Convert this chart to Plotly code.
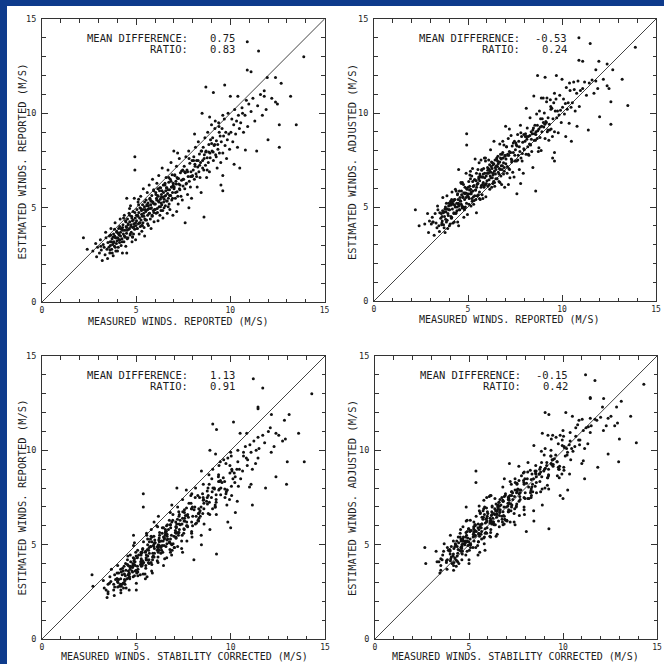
import plotly.graph_objects as go

# Wind speeds (m/s) for each observation: measured as reported, measured after the
# stability correction, estimated as reported, and estimated after adjustment.
MEASURED_REPORTED = [
    2.2, 2.4, 2.7, 2.85, 2.9, 2.95, 3.05, 3.1, 3.15, 3.2,
    3.25, 3.3, 3.35, 3.4, 3.45, 3.48, 3.5, 3.12, 3.38, 3.55,
    3.58, 3.6, 3.62, 3.66, 3.7, 3.72, 3.75, 3.78, 3.8, 3.82,
    3.85, 3.88, 3.9, 3.92, 3.95, 3.97, 3.99, 3.63, 3.86, 4.02,
    4.05, 4.07, 4.1, 4.12, 4.15, 4.17, 4.2, 4.22, 4.25, 4.27,
    4.3, 4.32, 4.35, 4.37, 4.4, 4.42, 4.45, 4.47, 4.49, 4.13,
    4.28, 4.44, 4.08, 4.52, 4.54, 4.56, 4.58, 4.5, 4.62, 4.64,
    4.66, 4.68, 4.7, 4.72, 4.74, 4.76, 4.78, 4.8, 4.82, 4.84,
    4.86, 4.88, 4.9, 4.92, 4.93, 4.93, 4.95, 4.97, 4.99, 4.65,
    4.81, 4.5, 5.02, 5.04, 5.06, 5.08, 5.1, 5.12, 5.14, 5.16,
    5.18, 5.2, 5.22, 5.24, 5.26, 5.28, 5.3, 5.32, 5.34, 5.36,
    5.38, 5.4, 5.42, 5.44, 5.46, 5.48, 5.13, 5.29, 5.45, 5.51,
    5.53, 5.55, 5.57, 5.59, 5.61, 5.63, 5.65, 5.67, 5.69, 5.71,
    5.73, 5.75, 5.77, 5.79, 5.81, 5.83, 5.85, 5.87, 5.89, 5.91,
    5.93, 5.95, 5.97, 5.62, 5.78, 5.94, 6.02, 6.04, 6.06, 6.08,
    6.1, 6.12, 6.14, 6.16, 6.18, 6.2, 6.22, 6.24, 6.26, 6.28,
    6.3, 6.32, 6.34, 6.36, 6.38, 6.4, 6.42, 6.44, 6.46, 6.48,
    6.15, 6.33, 6.51, 6.53, 6.55, 6.57, 6.59, 6.61, 6.63, 6.65,
    6.67, 6.69, 6.71, 6.73, 6.75, 6.77, 6.79, 6.81, 6.83, 6.85,
    6.87, 6.89, 6.91, 6.93, 6.95, 6.97, 6.7, 7.02, 7.05, 7.08,
    7.11, 7.14, 7.17, 7.2, 7.23, 7.26, 7.29, 7.32, 7.35, 7.38,
    7.41, 7.47, 7.49, 7.15, 7.3, 7.45, 7.0, 7.2, 7.52, 7.55,
    7.58, 7.61, 7.64, 7.67, 7.7, 7.73, 7.76, 7.79, 7.82, 7.85,
    7.88, 7.91, 7.94, 7.97, 7.6, 7.8, 7.99, 8.03, 8.06, 8.09,
    8.12, 8.15, 8.18, 8.21, 8.24, 8.27, 8.3, 8.33, 8.36, 8.39,
    8.42, 8.45, 8.48, 8.1, 8.5, 8.53, 8.56, 8.59, 8.62, 8.65,
    8.68, 8.71, 8.74, 8.77, 8.8, 8.83, 8.86, 8.89, 8.92, 8.6,
    8.7, 8.95, 9.03, 9.06, 9.1, 9.14, 9.18, 9.22, 9.26, 9.3,
    9.34, 9.38, 9.42, 9.46, 9.1, 9.49, 9.2, 9.4, 9.6, 9.0,
    8.9, 9.52, 9.56, 9.6, 9.64, 9.68, 9.72, 9.76, 9.8, 9.84,
    9.88, 9.92, 9.96, 9.6, 9.5, 9.6, 9.7, 10.03, 10.08, 10.13,
    10.18, 10.23, 10.28, 10.33, 10.38, 10.43, 10.48, 10.0, 10.2, 10.4,
    10.5, 10.55, 10.62, 10.7, 10.78, 10.85, 10.92, 10.8, 10.9, 11.1,
    10.9, 10.65, 10.98, 11.1, 11.2, 11.3, 11.4, 11.5, 11.45, 11.6,
    11.7, 11.8, 11.8, 11.9, 11.96, 12.0, 12.2, 12.4, 12.4, 12.5,
    12.6, 12.6, 12.7, 13.2, 13.5, 13.9,
    3.61, 3.65, 3.69, 3.73, 3.77, 3.81, 3.85, 3.89, 3.93, 3.97,
    4.01, 4.05, 4.09, 4.13, 4.17, 4.21, 4.25, 4.29, 4.33, 4.37,
    4.41, 4.45, 4.49, 4.53, 4.57, 4.61, 4.65, 4.69, 4.73, 4.77,
    4.81, 4.85, 4.89, 4.93, 4.97, 5.01, 5.05, 5.09, 5.13, 5.17,
    5.21, 5.25, 5.29, 5.33, 5.37, 5.41, 5.45, 5.49, 5.53, 5.57,
    5.61, 5.65, 5.69, 5.73, 5.77, 5.81, 5.85, 5.89, 5.93, 5.97,
    6.01, 6.05, 6.09, 6.13, 6.17, 6.21, 6.25, 6.29, 6.33, 6.37,
    6.41, 6.45, 6.49, 6.53, 6.57, 6.61, 6.65, 6.69, 6.73, 6.77,
    6.81, 6.85, 6.89, 6.93, 6.97, 7.01, 7.05, 7.09, 7.13, 7.17,
    7.21, 7.25, 7.33, 7.41, 7.49, 7.57, 7.65, 7.73, 7.81, 7.89,
    7.97, 8.05, 8.13, 8.21, 8.29, 8.37, 8.45, 8.53, 8.61, 8.69,
    8.77, 8.85, 8.93, 9.01, 9.09, 9.17, 9.25, 9.33, 9.41,
]

MEASURED_CORRECTED = [
    2.65, 2.7, 3.3, 3.25, 3.5, 3.5, 3.4, 3.6, 3.85, 3.45,
    3.65, 3.8, 3.5, 3.85, 4.1, 3.83, 3.9, 3.57, 3.68, 4.15,
    3.98, 3.8, 4.17, 4.01, 4.2, 4.42, 4.0, 4.18, 4.3, 3.97,
    4.3, 4.53, 4.25, 4.32, 4.4, 4.27, 4.59, 4.03, 4.06, 4.57,
    4.4, 4.57, 4.8, 4.37, 4.55, 4.67, 4.35, 4.67, 4.9, 4.62,
    4.7, 4.77, 4.65, 4.97, 4.8, 4.62, 5.0, 4.82, 4.99, 4.83,
    4.53, 4.84, 4.58, 4.67, 4.99, 5.21, 4.93, 5.0, 5.07, 4.94,
    5.26, 5.08, 4.9, 5.27, 5.09, 5.26, 5.48, 5.05, 5.22, 5.34,
    5.01, 5.33, 5.55, 5.27, 5.37, 5.37, 5.25, 5.57, 5.39, 4.85,
    5.36, 4.85, 5.52, 5.74, 5.31, 5.48, 5.6, 5.27, 5.59, 5.81,
    5.53, 5.6, 5.67, 5.54, 5.86, 5.68, 5.5, 5.87, 5.69, 5.86,
    6.08, 5.65, 5.82, 5.94, 5.61, 5.93, 5.78, 5.64, 5.85, 5.96,
    5.83, 6.15, 5.97, 5.79, 6.16, 5.98, 6.15, 6.37, 5.94, 6.11,
    6.23, 5.9, 6.22, 6.44, 6.16, 6.23, 6.3, 6.17, 6.49, 6.31,
    6.13, 6.5, 6.32, 6.12, 6.48, 6.19, 6.42, 6.54, 6.21, 6.53,
    6.75, 6.47, 6.54, 6.61, 6.48, 6.8, 6.62, 6.44, 6.81, 6.63,
    6.8, 7.02, 6.59, 6.76, 6.88, 6.55, 6.87, 7.09, 6.81, 6.88,
    6.6, 6.63, 7.11, 6.93, 6.75, 7.12, 6.94, 7.11, 7.33, 6.9,
    7.07, 7.19, 6.86, 7.18, 7.4, 7.12, 7.19, 7.26, 7.13, 7.45,
    7.27, 7.09, 7.46, 7.28, 7.45, 7.67, 6.95, 7.42, 7.55, 7.23,
    7.56, 7.79, 7.52, 7.6, 7.68, 7.56, 7.89, 7.72, 7.55, 7.93,
    7.76, 7.97, 8.19, 7.4, 7.7, 7.95, 7.15, 7.65, 8.17, 7.9,
    7.98, 8.06, 7.94, 8.27, 8.1, 7.93, 8.31, 8.14, 8.32, 8.55,
    8.13, 8.31, 8.44, 8.12, 8.05, 8.45, 8.34, 8.43, 8.51, 8.39,
    8.72, 8.55, 8.38, 8.76, 8.59, 8.77, 9.0, 8.58, 8.76, 8.89,
    8.57, 8.9, 9.13, 8.45, 8.9, 8.98, 8.86, 9.19, 9.02, 8.85,
    9.23, 9.06, 9.24, 9.47, 9.05, 9.23, 9.36, 9.04, 9.37, 9.25,
    9.05, 9.35, 9.48, 9.36, 9.7, 9.54, 9.38, 9.77, 9.61, 9.8,
    10.04, 9.63, 9.82, 9.96, 9.25, 9.94, 9.85, 9.75, 10.0, 9.45,
    9.2, 10.12, 9.96, 9.8, 10.19, 10.03, 10.22, 10.46, 10.05, 10.24,
    10.38, 10.07, 10.41, 10.25, 9.85, 10.0, 10.15, 10.33, 10.68, 10.53,
    10.38, 10.78, 10.63, 10.83, 11.08, 10.68, 10.88, 10.5, 10.35, 10.85,
    11.15, 10.9, 11.02, 11.15, 11.08, 11.45, 11.32, 11.0, 11.45, 11.45,
    11.2, 11.35, 11.23, 11.5, 11.7, 11.45, 11.85, 11.7, 11.8, 12.0,
    12.15, 12.1, 12.4, 12.3, 12.16, 12.4, 12.55, 12.9, 13.1, 12.75,
    13.0, 12.96, 12.85, 13.6, 13.9, 14.3,
    4.01, 4.2, 3.99, 4.18, 4.37, 4.06, 4.35, 4.24, 4.58, 4.17,
    4.46, 4.45, 4.64, 4.43, 4.62, 4.81, 4.5, 4.79, 4.68, 5.02,
    4.61, 4.9, 4.89, 5.08, 4.87, 5.06, 5.25, 4.94, 5.23, 5.12,
    5.46, 5.05, 5.34, 5.33, 5.52, 5.31, 5.5, 5.69, 5.38, 5.67,
    5.56, 5.9, 5.49, 5.78, 5.77, 5.96, 5.75, 5.94, 6.13, 5.82,
    6.11, 6.0, 6.34, 5.93, 6.22, 6.21, 6.4, 6.19, 6.38, 6.57,
    6.26, 6.55, 6.44, 6.78, 6.37, 6.66, 6.65, 6.84, 6.63, 6.82,
    7.01, 6.7, 6.99, 6.88, 7.22, 6.81, 7.1, 7.09, 7.28, 7.07,
    7.26, 7.45, 7.14, 7.43, 7.32, 7.66, 7.25, 7.54, 7.53, 7.72,
    7.51, 7.7, 7.93, 7.66, 7.99, 7.92, 8.3, 7.93, 8.26, 8.29,
    8.52, 8.35, 8.58, 8.81, 8.54, 8.87, 8.8, 9.18, 8.81, 9.14,
    9.17, 9.4, 9.23, 9.46, 9.69, 9.42, 9.75, 9.68, 10.06,
]

ESTIMATED_REPORTED = [
    3.4, 2.8, 2.7, 3.1, 2.4, 2.9, 2.6, 3.3, 2.75, 2.2,
    3.05, 2.9, 2.5, 3.4, 2.8, 2.3, 3.15, 2.95, 3.7, 2.9,
    3.5, 2.6, 3.2, 3.9, 2.8, 3.35, 3.05, 2.45, 3.6, 3.2,
    2.95, 4.2, 3.4, 2.7, 3.1, 3.75, 3.25, 3.0, 3.5, 3.4,
    2.9, 3.9, 3.55, 3.15, 4.4, 3.7, 3.0, 3.85, 3.35, 2.6,
    4.1, 3.6, 3.2, 4.6, 3.8, 3.45, 2.95, 4.0, 3.65, 3.3,
    3.95, 4.3, 3.6, 3.8, 4.4, 3.4, 4.1, 2.6, 4.7, 3.9,
    4.25, 3.55, 5.1, 4.0, 3.7, 4.55, 3.2, 4.3, 3.95, 4.8,
    3.6, 4.15, 5.5, 3.85, 7.7, 7.0, 4.45, 3.3, 4.05, 4.95,
    3.45, 5.5, 4.3, 4.9, 3.9, 4.6, 5.3, 4.15, 4.75, 3.6,
    4.45, 5.0, 4.0, 5.6, 4.35, 4.85, 3.75, 4.55, 5.15, 4.2,
    6.0, 4.7, 3.95, 5.05, 4.4, 4.9, 5.45, 4.05, 3.5, 4.8,
    5.4, 4.35, 5.1, 5.8, 4.6, 5.25, 4.05, 4.95, 6.2, 4.7,
    5.5, 4.4, 5.15, 3.9, 5.0, 5.65, 4.55, 6.5, 5.3, 4.85,
    5.95, 4.25, 5.2, 4.9, 5.35, 4.75, 5.2, 5.8, 4.7, 5.5,
    6.3, 4.95, 5.65, 4.3, 5.35, 6.7, 5.05, 5.9, 4.6, 5.45,
    6.05, 4.85, 5.7, 5.15, 7.1, 5.55, 4.45, 6.2, 5.3, 5.0,
    6.0, 5.25, 5.6, 6.3, 5.1, 5.9, 6.6, 5.35, 6.05, 4.7,
    5.75, 7.0, 5.5, 6.35, 5.2, 5.95, 4.9, 6.5, 5.65, 7.4,
    6.1, 5.4, 6.75, 5.8, 4.6, 6.2, 5.05, 6.1, 6.7, 5.5,
    6.4, 7.2, 5.85, 6.55, 5.2, 6.25, 7.6, 5.95, 6.85, 5.6,
    6.45, 7.0, 6.15, 4.8, 6.0, 5.4, 8.0, 7.9, 6.5, 7.2,
    6.0, 6.85, 7.7, 6.3, 7.0, 5.7, 6.65, 8.0, 6.4, 7.35,
    6.1, 6.9, 5.5, 7.5, 4.2, 5.0, 6.7, 7.0, 7.7, 6.5,
    7.3, 8.2, 6.8, 7.5, 6.1, 7.15, 8.5, 6.9, 7.85, 6.6,
    7.4, 5.8, 8.0, 8.9, 10.0, 7.5, 8.2, 7.0, 7.8, 8.7,
    7.25, 8.0, 6.6, 7.65, 9.0, 7.4, 8.35, 6.9, 7.9, 4.5,
    11.4, 8.6, 8.0, 8.7, 7.5, 8.3, 9.2, 7.8, 8.55, 7.1,
    8.1, 9.5, 7.9, 8.8, 11.1, 7.4, 9.6, 9.3, 9.9, 9.4,
    9.8, 8.5, 9.2, 7.9, 8.8, 9.7, 8.3, 9.0, 7.6, 8.6,
    10.0, 8.9, 8.1, 6.7, 6.2, 5.9, 11.5, 9.0, 9.7, 8.5,
    9.4, 10.2, 8.9, 9.6, 8.2, 9.9, 9.2, 10.9, 7.3, 10.9,
    7.1, 9.5, 10.3, 9.0, 9.9, 10.7, 9.3, 8.05, 12.3, 12.2,
    13.8, 10.0, 10.5, 10.1, 10.8, 9.6, 8.0, 13.3, 10.4, 11.0,
    9.9, 11.2, 10.9, 10.2, 11.9, 8.6, 10.8, 10.6, 11.9, 10.5,
    9.4, 8.2, 11.6, 10.9, 9.4, 13.0,
    2.75, 3.55, 3.2, 2.6, 3.45, 3.15, 3.85, 2.9, 3.4, 3.7,
    2.7, 3.65, 3.3, 4.0, 3.5, 3.9, 3.2, 3.8, 4.45, 3.5,
    3.45, 4.25, 3.95, 3.35, 4.15, 3.85, 4.6, 3.6, 4.1, 4.45,
    3.45, 4.35, 4.0, 4.75, 4.2, 4.6, 3.9, 4.55, 5.15, 4.2,
    4.2, 4.95, 4.65, 4.05, 4.9, 4.55, 5.3, 4.35, 4.85, 5.15,
    4.15, 5.1, 4.7, 5.45, 4.95, 5.35, 4.6, 5.25, 5.9, 4.9,
    4.9, 5.7, 5.4, 4.75, 5.6, 5.3, 6.05, 5.05, 5.55, 5.9,
    4.85, 5.8, 5.45, 6.2, 5.65, 6.05, 5.35, 5.95, 6.6, 5.65,
    5.65, 6.4, 6.1, 5.5, 6.3, 6.0, 6.75, 5.8, 6.25, 6.6,
    5.6, 6.55, 6.2, 6.95, 6.5, 6.9, 6.25, 6.9, 7.6, 6.65,
    6.65, 7.5, 7.2, 6.65, 7.5, 7.25, 8.0, 7.1, 7.6, 7.95,
    7.0, 7.95, 7.65, 8.4, 7.95, 8.35, 7.7, 8.35, 9.0,
]

ESTIMATED_ADJUSTED = [
    4.85, 4.0, 4.1, 4.65, 3.65, 4.25, 4.1, 4.45, 4.2, 3.5,
    4.65, 4.15, 3.9, 4.85, 4.0, 3.7, 4.7, 4.2, 5.05, 4.4,
    4.65, 4.05, 4.5, 5.5, 4.05, 4.75, 4.5, 3.65, 5.0, 4.75,
    4.2, 5.6, 4.9, 3.85, 4.55, 5.05, 4.85, 4.25, 4.9, 4.85,
    4.1, 5.3, 5.1, 4.4, 5.8, 5.2, 4.15, 5.3, 4.65, 4.2,
    5.4, 5.0, 4.65, 5.85, 5.2, 5.0, 4.2, 5.4, 5.15, 4.45,
    5.4, 5.65, 5.2, 5.05, 5.85, 4.85, 5.35, 4.0, 6.3, 5.15,
    5.65, 5.05, 6.3, 5.5, 5.0, 6.2, 4.45, 5.75, 5.4, 6.05,
    5.0, 5.75, 6.8, 5.2, 8.9, 8.3, 5.95, 4.6, 5.7, 6.25,
    4.85, 7.0, 5.55, 6.35, 5.45, 5.9, 6.7, 5.7, 5.95, 5.05,
    5.8, 6.65, 5.3, 7.05, 5.85, 6.1, 5.15, 6.15, 6.45, 5.6,
    7.55, 5.9, 5.4, 6.4, 6.05, 6.2, 6.9, 5.55, 4.7, 6.25,
    7.0, 5.65, 6.5, 7.35, 5.8, 6.75, 5.4, 6.6, 7.5, 6.15,
    7.0, 5.65, 6.6, 5.45, 6.3, 7.05, 6.1, 7.6, 6.8, 6.2,
    7.6, 5.55, 6.65, 6.4, 6.6, 6.2, 6.8, 7.1, 6.1, 7.05,
    7.5, 6.45, 7.0, 5.95, 6.65, 8.05, 6.55, 7.15, 6.05, 7.05,
    7.35, 6.25, 7.25, 6.35, 8.5, 6.9, 6.1, 7.5, 6.75, 6.5,
    7.25, 6.7, 7.2, 7.6, 6.5, 7.45, 7.7, 6.85, 7.4, 6.35,
    7.05, 8.35, 7.0, 7.6, 6.65, 7.55, 6.2, 7.8, 7.2, 8.5,
    7.6, 6.75, 8.3, 7.1, 6.05, 7.7, 6.3, 7.55, 8.2, 6.8,
    7.8, 8.65, 7.05, 7.95, 6.55, 7.9, 8.8, 7.4, 8.25, 6.85,
    7.9, 8.5, 7.45, 6.2, 7.55, 6.6, 9.3, 9.15, 8.05, 8.4,
    7.45, 8.25, 8.85, 7.75, 8.5, 7.0, 7.95, 9.35, 7.6, 8.75,
    7.45, 8.45, 6.8, 8.85, 5.7, 6.25, 8.05, 8.5, 8.9, 7.8,
    8.75, 9.2, 8.2, 8.75, 7.75, 8.35, 9.75, 8.3, 9.0, 7.95,
    8.9, 7.1, 9.2, 10.25, 10.9, 8.9, 9.35, 8.55, 9.0, 9.95,
    8.65, 9.05, 7.95, 9.15, 10.1, 8.7, 9.7, 8.0, 9.3, 5.85,
    12.0, 9.7, 9.25, 10.0, 8.65, 9.55, 10.6, 9.0, 9.75, 8.55,
    9.1, 10.7, 9.15, 10.25, 11.9, 8.75, 10.8, 10.35, 11.05, 10.8,
    10.8, 9.7, 10.55, 9.0, 10.1, 10.75, 9.75, 10.1, 8.95, 9.9,
    10.95, 10.15, 9.5, 7.9, 7.6, 7.45, 12.0, 10.3, 10.75, 9.95,
    10.5, 11.35, 10.2, 10.55, 9.45, 11.2, 10.3, 11.8, 8.75, 11.6,
    8.5, 10.55, 11.65, 10.1, 11.05, 11.7, 10.35, 9.3, 12.8, 12.75,
    14.0, 11.25, 11.2, 11.3, 11.65, 10.95, 9.1, 13.7, 11.6, 11.75,
    11.05, 12.3, 11.7, 11.3, 12.75, 9.8, 11.8, 11.45, 12.6, 11.3,
    10.6, 9.4, 12.3, 11.8, 10.4, 13.5,
    4.15, 4.8, 4.7, 3.9, 4.9, 4.35, 5.2, 4.3, 4.65, 5.2,
    4.0, 5.1, 4.5, 5.4, 4.9, 5.15, 4.7, 5.1, 5.95, 4.7,
    4.8, 5.7, 5.2, 4.85, 5.5, 5.3, 5.85, 4.95, 5.55, 5.75,
    4.95, 5.7, 5.5, 6.0, 5.6, 6.05, 5.15, 6.1, 6.5, 5.7,
    5.45, 6.35, 6.1, 5.35, 6.45, 5.9, 6.8, 5.6, 6.25, 6.6,
    5.45, 6.65, 6.05, 6.95, 6.2, 6.75, 6.05, 6.55, 7.45, 6.25,
    6.4, 6.95, 6.8, 6.2, 6.9, 6.85, 7.4, 6.55, 6.8, 7.3,
    6.3, 7.1, 7.0, 7.55, 7.15, 7.3, 6.75, 7.4, 7.8, 7.2,
    7.0, 7.9, 7.35, 6.9, 7.75, 7.3, 8.2, 7.15, 7.75, 7.75,
    7.0, 7.9, 7.5, 8.4, 7.75, 8.3, 7.5, 8.2, 8.95, 7.85,
    8.1, 8.75, 8.6, 7.8, 8.8, 8.6, 9.1, 8.55, 8.85, 9.35,
    8.15, 9.25, 9.0, 9.5, 9.4, 9.5, 9.1, 9.4, 10.2,
]

MEAN_DIFFERENCE = ["0.75", "-0.53", "1.13", "-0.15"]
RATIO = ["0.83", "0.24", "0.91", "0.42"]
TICK_VALUES = [0, 5, 10, 15]
TICK_TEXT = ["0", "5", "10", "15"]
X_TITLES = [
    "MEASURED WINDS. REPORTED (M/S)",
    "MEASURED WINDS. REPORTED (M/S)",
    "MEASURED WINDS. STABILITY CORRECTED (M/S)",
    "MEASURED WINDS. STABILITY CORRECTED (M/S)",
]
Y_TITLES = [
    "ESTIMATED WINDS. REPORTED (M/S)",
    "ESTIMATED WINDS. ADJUSTED (M/S)",
    "ESTIMATED WINDS. REPORTED (M/S)",
    "ESTIMATED WINDS. ADJUSTED (M/S)",
]

n = len(MEASURED_REPORTED)
assert all(len(a) == n for a in (MEASURED_CORRECTED, ESTIMATED_REPORTED, ESTIMATED_ADJUSTED))

SIZE = 664
MONO = "DejaVu Sans Mono"
INK = "#1c1c1c"
BLUE = "#0e3b8c"

# (x data, y data, plot box in pixels: left, right, top, bottom,
#  x-title centre, y-title centre)
PANELS = [
    (MEASURED_REPORTED, ESTIMATED_REPORTED, (42, 324.5, 19, 302), (178, 321), (21.5, 162)),
    (MEASURED_REPORTED, ESTIMATED_ADJUSTED, (374, 656, 19, 301), (509, 319), (352, 162)),
    (MEASURED_CORRECTED, ESTIMATED_REPORTED, (42, 325, 356, 639), (184, 656), (21.5, 498)),
    (MEASURED_CORRECTED, ESTIMATED_ADJUSTED, (375, 657, 356, 639), (515, 656), (352, 498)),
]


def px(x):
    return x / SIZE


def py(y):
    return 1 - y / SIZE


def axis_style(domain, anchor, standoff, size):
    return dict(
        domain=domain, anchor=anchor, range=[0, 15],
        tickmode="array", tickvals=TICK_VALUES, ticktext=TICK_TEXT,
        ticks="inside", ticklen=6, tickwidth=1.3, tickcolor="#333",
        minor=dict(tickmode="linear", tick0=0, dtick=1, ticks="inside",
                   ticklen=3.5, tickwidth=1, tickcolor="#333", showgrid=False),
        showline=True, linewidth=1, linecolor="#333", mirror="allticks",
        showgrid=False, zeroline=False, fixedrange=True,
        tickfont=dict(family=MONO, size=size, color=INK),
        ticklabelstandoff=standoff,
    )


fig = go.Figure()
layout_axes = {}
annotations = []

for k, (xs, ys, box, xt, yt) in enumerate(PANELS, start=1):
    left, right, top, bottom = box
    xname = "x" if k == 1 else f"x{k}"
    yname = "y" if k == 1 else f"y{k}"

    # 1:1 reference line
    fig.add_trace(go.Scatter(
        x=[0, 15], y=[0, 15], mode="lines",
        line=dict(color="#444", width=1),
        xaxis=xname, yaxis=yname, hoverinfo="skip", showlegend=False,
    ))
    fig.add_trace(go.Scatter(
        x=xs, y=ys, mode="markers",
        marker=dict(size=3, color="#111", line=dict(width=0)),
        xaxis=xname, yaxis=yname, showlegend=False,
    ))

    layout_axes["xaxis" if k == 1 else f"xaxis{k}"] = axis_style(
        [px(left), px(right)], yname, 0, 8)
    layout_axes["yaxis" if k == 1 else f"yaxis{k}"] = axis_style(
        [py(bottom), py(top)], xname, 3, 8.5)

    annotations.append(dict(
        text=X_TITLES[k - 1], x=px(xt[0]), y=py(xt[1]), xref="paper", yref="paper",
        xanchor="center", yanchor="middle", showarrow=False,
        font=dict(family=MONO, size=10, color=INK)))
    annotations.append(dict(
        text=Y_TITLES[k - 1], x=px(yt[0]), y=py(yt[1]), xref="paper", yref="paper",
        xanchor="center", yanchor="middle", showarrow=False, textangle=-90,
        font=dict(family=MONO, size=10.5, color=INK)))

    label_x = px(left + 148)
    value_x = px(left + 194.5)
    for row, (label, value) in enumerate(
            [("MEAN DIFFERENCE:", MEAN_DIFFERENCE[k - 1]), ("RATIO:", RATIO[k - 1])]):
        y = py(top + 19 + 11 * row)
        annotations.append(dict(
            text=label, x=label_x, y=y, xref="paper", yref="paper",
            xanchor="right", yanchor="middle", showarrow=False,
            font=dict(family=MONO, size=10.5, color=INK)))
        annotations.append(dict(
            text=value, x=value_x, y=y, xref="paper", yref="paper",
            xanchor="right", yanchor="middle", showarrow=False,
            font=dict(family=MONO, size=10.5, color=INK)))

fig.update_layout(
    width=SIZE, height=SIZE,
    margin=dict(l=0, r=0, t=0, b=0, autoexpand=False),
    paper_bgcolor="white", plot_bgcolor="white",
    showlegend=False,
    annotations=annotations,
    shapes=[
        dict(type="rect", xref="paper", yref="paper", x0=0, x1=1,
             y0=py(6), y1=1, fillcolor=BLUE, line=dict(width=0), layer="below"),
        dict(type="rect", xref="paper", yref="paper", x0=0, x1=px(7),
             y0=0, y1=1, fillcolor=BLUE, line=dict(width=0), layer="below"),
    ],
    **layout_axes,
)

fig.write_html("out.html", config={"displayModeBar": False})
